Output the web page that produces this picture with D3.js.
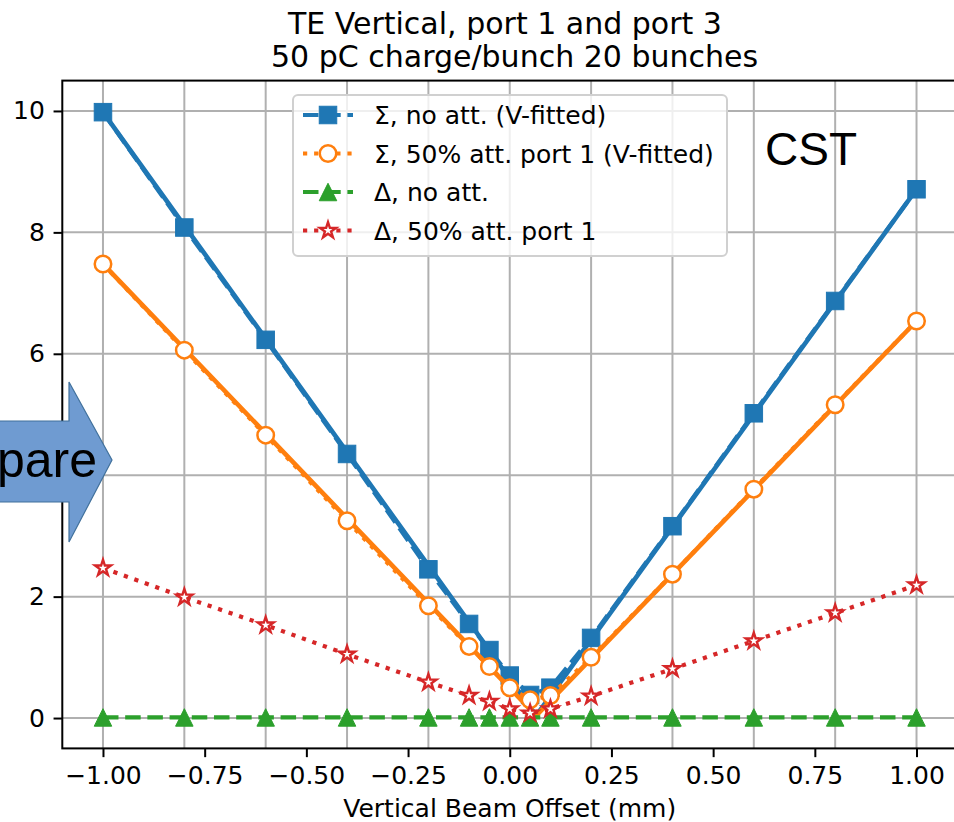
<!DOCTYPE html>
<html>
<head>
<meta charset="utf-8">
<script src="https://cdn.jsdelivr.net/npm/d3@7"></script>
<style>
  html, body { margin: 0; padding: 0; background: #fff; }
  svg { display: block; }
</style>
</head>
<body>
<svg id="chart" width="954" height="822"></svg>
<script>
// Beam offset scan positions (mm)
const offsets = [-1, -0.8, -0.6, -0.4, -0.2, -0.1, -0.05, 0, 0.05, 0.1, 0.2, 0.4, 0.6, 0.8, 1];

// Measured signals
const sigmaNoAtt   = [9.98, 8.08, 6.23, 4.35, 2.45, 1.55, 1.12, 0.70, 0.38, 0.50, 1.32, 3.16, 5.02, 6.87, 8.71];
const sigmaAtt     = [7.48, 6.06, 4.66, 3.25, 1.85, 1.18, 0.85, 0.50, 0.30, 0.37, 1.00, 2.37, 3.77, 5.16, 6.54];
const deltaNoAtt   = [0.01, 0.01, 0.01, 0.01, 0.01, 0.01, 0.01, 0.01, 0.01, 0.01, 0.01, 0.01, 0.01, 0.01, 0.01];
const deltaAtt     = [2.47, 1.99, 1.53, 1.05, 0.59, 0.37, 0.27, 0.15, 0.08, 0.15, 0.36, 0.81, 1.27, 1.73, 2.19];

// V-shaped fits: end points and vertex
const fitX          = [-1, 0.065, 1];
const fitSigmaNoAtt = [9.98, 0.04, 8.71];
const fitSigmaAtt   = [7.48, 0.04, 6.54];

const xTicks = [-1, -0.75, -0.5, -0.25, 0, 0.25, 0.5, 0.75, 1];
const xGrid  = [-1, -0.8, -0.6, -0.4, -0.2, 0, 0.2, 0.4, 0.6, 0.8, 1];
const yTicks = [0, 2, 4, 6, 8, 10];

const titleLines = ["TE Vertical, port 1 and port 3", "50 pC charge/bunch 20 bunches"];
const xLabel = "Vertical Beam Offset (mm)";

const legendItems = [
  { label: "Σ, no att. (V-fitted)",          color: "#1f77b4", dash: "dashed", marker: "square" },
  { label: "Σ, 50% att. port 1 (V-fitted)",  color: "#ff7f0e", dash: "dotted", marker: "circle" },
  { label: "Δ, no att.",                     color: "#2ca02c", dash: "dashed", marker: "triangle" },
  { label: "Δ, 50% att. port 1",             color: "#d62728", dash: "dotted", marker: "star" }
];

const svg = d3.select("#chart");
const font = "'DejaVu Sans', sans-serif";
const FS = 25;        // tick / label / legend font size
const TFS = 30;       // title font size

const margin = { left: 62.3, right: 957.2, top: 80.6, bottom: 748.4 };
const x = d3.scaleLinear().domain([-1.1, 1.1]).range([margin.left, margin.right]);
const y = d3.scaleLinear().domain([-0.5, 10.5]).range([margin.bottom, margin.top]);

const LW = 4.2;
const FIT_LW = 4.6;
const dashes = { dashed: "15.5,6.7", dotted: "4.2,6.9" };
const MS = 17.5;
const TICK = 8.75;

// grid
const grid = svg.append("g").attr("stroke", "#b0b0b0").attr("stroke-width", 2);
grid.selectAll("line.v").data(xGrid).join("line")
  .attr("x1", d => x(d)).attr("x2", d => x(d))
  .attr("y1", margin.top).attr("y2", margin.bottom);
grid.selectAll("line.h").data(yTicks).join("line")
  .attr("x1", margin.left).attr("x2", margin.right)
  .attr("y1", d => y(d)).attr("y2", d => y(d));

function starPath(R) {
  const r = R * 0.381966;
  const pts = [];
  for (let i = 0; i < 10; i++) {
    const a = -Math.PI / 2 + i * Math.PI / 5;
    const rr = i % 2 === 0 ? R : r;
    pts.push([rr * Math.cos(a), rr * Math.sin(a)]);
  }
  return "M" + pts.map(p => p.join(",")).join("L") + "Z";
}

function drawMarker(g, type, color, cx, cy) {
  if (type === "square") {
    g.append("rect").attr("x", cx - MS / 2).attr("y", cy - MS / 2)
      .attr("width", MS).attr("height", MS).attr("fill", color).attr("stroke", color).attr("stroke-width", 1);
  } else if (type === "circle") {
    g.append("circle").attr("cx", cx).attr("cy", cy).attr("r", MS / 2 - 0.5)
      .attr("fill", "#fff").attr("stroke", color).attr("stroke-width", 2.5);
  } else if (type === "triangle") {
    const h = MS / 2;
    g.append("path").attr("d", `M${cx},${cy - h}L${cx - h},${cy + h}L${cx + h},${cy + h}Z`)
      .attr("fill", color).attr("stroke", color).attr("stroke-width", 1);
  } else if (type === "star") {
    g.append("path").attr("d", starPath(8.4)).attr("transform", `translate(${cx},${cy})`)
      .attr("fill", "#fff").attr("stroke", color).attr("stroke-width", 2.4).attr("stroke-linejoin", "miter");
  }
}

const plot = svg.append("g");
const line = d3.line().x(d => x(d[0])).y(d => y(d[1]));

function drawFit(vals, color) {
  plot.append("path").datum(fitX.map((v, i) => [v, vals[i]]))
    .attr("d", line).attr("fill", "none").attr("stroke", color)
    .attr("stroke-width", FIT_LW).attr("stroke-linejoin", "round");
}
function drawSeries(vals, item) {
  const pts = offsets.map((v, i) => [v, vals[i]]);
  plot.append("path").datum(pts).attr("d", line).attr("fill", "none")
    .attr("stroke", item.color).attr("stroke-width", LW)
    .attr("stroke-dasharray", dashes[item.dash]);
  const mg = plot.append("g");
  pts.forEach(p => drawMarker(mg, item.marker, item.color, x(p[0]), y(p[1])));
}

drawFit(fitSigmaNoAtt, legendItems[0].color);
drawSeries(sigmaNoAtt, legendItems[0]);
drawFit(fitSigmaAtt, legendItems[1].color);
drawSeries(sigmaAtt, legendItems[1]);
drawSeries(deltaNoAtt, legendItems[2]);
drawSeries(deltaAtt, legendItems[3]);

// spines
svg.append("rect").attr("x", margin.left).attr("y", margin.top)
  .attr("width", margin.right - margin.left).attr("height", margin.bottom - margin.top)
  .attr("fill", "none").attr("stroke", "#000").attr("stroke-width", 2);

// x axis
const xAxis = svg.append("g").attr("transform", `translate(0,${margin.bottom})`)
  .call(d3.axisBottom(x).tickValues(xTicks).tickSize(TICK).tickPadding(TICK)
    .tickFormat(d => d3.format(".2f")(d).replace("-", "\u2212")));
xAxis.select(".domain").remove();
xAxis.selectAll(".tick line").attr("stroke", "#000").attr("stroke-width", 2);
xAxis.selectAll(".tick text").attr("font-family", font).attr("font-size", FS).attr("fill", "#000");

// y axis
const yAxis = svg.append("g").attr("transform", `translate(${margin.left},0)`)
  .call(d3.axisLeft(y).tickValues(yTicks).tickSize(TICK).tickPadding(TICK).tickFormat(d3.format("d")));
yAxis.select(".domain").remove();
yAxis.selectAll(".tick line").attr("stroke", "#000").attr("stroke-width", 2);
yAxis.selectAll(".tick text").attr("font-family", font).attr("font-size", FS).attr("fill", "#000");

// axis label
svg.append("text").attr("x", x(0)).attr("y", 817).attr("text-anchor", "middle")
  .attr("font-family", font).attr("font-size", FS).text(xLabel);

// title (two centred lines, the second nudged right)
const cx = (margin.left + margin.right) / 2;
svg.selectAll("text.title").data(titleLines).join("text")
  .attr("class", "title").attr("x", (d, i) => cx + (i === 0 ? -4.8 : 4.8)).attr("y", (d, i) => 33.5 + i * 33.5)
  .attr("text-anchor", "middle").attr("font-family", font).attr("font-size", TFS)
  .text(d => d);

// legend
const lg = svg.append("g");
lg.append("rect").attr("x", 293).attr("y", 95).attr("width", 434).attr("height", 161)
  .attr("rx", 5).attr("fill", "#fff").attr("fill-opacity", 0.8)
  .attr("stroke", "#d0d0d0").attr("stroke-width", 2);
legendItems.forEach((it, i) => {
  const ry = 115 + i * 38.5;
  lg.append("line").attr("x1", 303).attr("x2", 353).attr("y1", ry).attr("y2", ry)
    .attr("stroke", it.color).attr("stroke-width", LW).attr("stroke-dasharray", dashes[it.dash]);
  drawMarker(lg, it.marker, it.color, 328, ry);
  lg.append("text").attr("x", 374).attr("y", ry + 9).attr("font-family", font)
    .attr("font-size", FS).attr("fill", "#000").text(it.label);
});

// annotation
svg.append("text").attr("x", 765).attr("y", 165).attr("font-family", "'Liberation Sans', Arial, sans-serif")
  .attr("font-size", 46).attr("fill", "#000").text("CST");

// overlay arrow
svg.append("path")
  .attr("d", "M-20,421L69,421L69,382L112,460L69,542L69,502L-20,502Z")
  .attr("fill", "#6f9bd1").attr("stroke", "#41719c").attr("stroke-width", 1.2);
svg.append("text").attr("x", 97).attr("y", 477).attr("text-anchor", "end")
  .attr("font-family", "'Liberation Sans', Arial, sans-serif").attr("font-size", 50)
  .attr("fill", "#000").text("Compare");
</script>
</body>
</html>
